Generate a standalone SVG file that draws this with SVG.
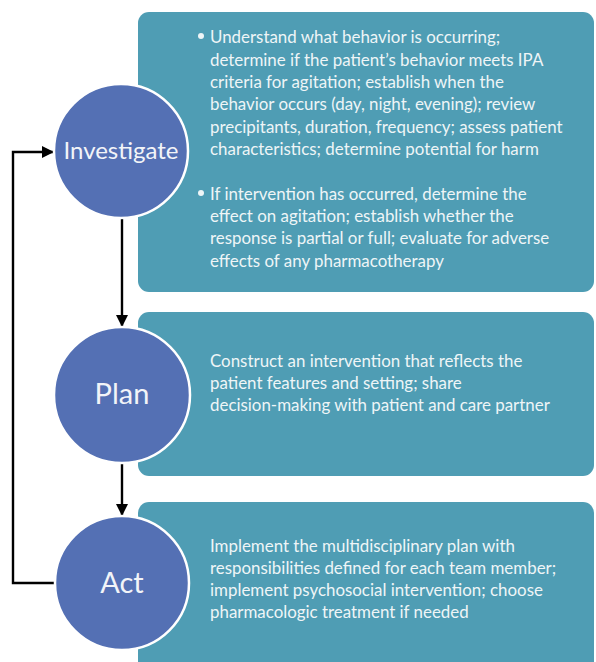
<svg xmlns="http://www.w3.org/2000/svg" width="596" height="662" viewBox="0 0 596 662">
<style>
.box{fill:#4f9db4;}
.node{fill:#5470b4;stroke:#ffffff;stroke-width:2.5;}
.lbl{font-family:Lato,"Open Sans",sans-serif;font-size:24px;fill:#f2f4f8;text-anchor:middle;}
.big{font-size:29px;}
.txt{font-family:Lato,"Open Sans",sans-serif;font-size:16.9px;fill:#eef5f7;}
.conn{fill:none;stroke:#000;stroke-width:2.4;}
</style>
<defs>
<marker id="ah" viewBox="0 0 12 12" refX="12" refY="6" markerWidth="12" markerHeight="12" orient="auto" markerUnits="userSpaceOnUse">
<path d="M0,0 L12,6 L0,12 z" fill="#000"/>
</marker>
</defs>
<rect width="596" height="662" fill="#ffffff"/>
<g id="box-investigate">
<rect class="box" x="138" y="12" width="456" height="280" rx="11"/>
<circle cx="201" cy="36" r="3" fill="#eef5f7"/>
<text class="txt" x="210" y="43">Understand what behavior is occurring;</text>
<text class="txt" x="210" y="66">determine if the patient’s behavior meets IPA</text>
<text class="txt" x="210" y="88">criteria for agitation; establish when the</text>
<text class="txt" x="210" y="110">behavior occurs (day, night, evening); review</text>
<text class="txt" x="210" y="133">precipitants, duration, frequency; assess patient</text>
<text class="txt" x="210" y="155">characteristics; determine potential for harm</text>
<circle cx="201" cy="193" r="3" fill="#eef5f7"/>
<text class="txt" x="210" y="200">If intervention has occurred, determine the</text>
<text class="txt" x="210" y="222">effect on agitation; establish whether the</text>
<text class="txt" x="210" y="244">response is partial or full; evaluate for adverse</text>
<text class="txt" x="210" y="267">effects of any pharmacotherapy</text>
</g>
<g id="box-plan">
<rect class="box" x="138" y="312" width="456" height="164" rx="11"/>
<text class="txt" x="210" y="367">Construct an intervention that reflects the</text>
<text class="txt" x="210" y="389">patient features and setting; share</text>
<text class="txt" x="210" y="411">decision-making with patient and care partner</text>
</g>
<g id="box-act">
<rect class="box" x="138" y="502" width="456" height="175" rx="11"/>
<text class="txt" x="210" y="552">Implement the multidisciplinary plan with</text>
<text class="txt" x="210" y="574">responsibilities defined for each team member;</text>
<text class="txt" x="210" y="596">implement psychosocial intervention; choose</text>
<text class="txt" x="210" y="618">pharmacologic treatment if needed</text>
</g>
<g id="connectors">
<path class="conn" d="M122,218 L122,327" marker-end="url(#ah)"/>
<path class="conn" d="M122,462 L122,516" marker-end="url(#ah)"/>
<path class="conn" d="M55,583 L13,583 L13,152 L54,152" marker-end="url(#ah)"/>
</g>
<g id="node-investigate">
<circle class="node" cx="121" cy="151" r="67"/>
<text class="lbl" x="121" y="159">Investigate</text>
</g>
<g id="node-plan">
<circle class="node" cx="122" cy="395" r="68"/>
<text class="lbl big" x="122" y="404">Plan</text>
</g>
<g id="node-act">
<circle class="node" cx="122" cy="583" r="67"/>
<text class="lbl big" x="122" y="593">Act</text>
</g>
</svg>
